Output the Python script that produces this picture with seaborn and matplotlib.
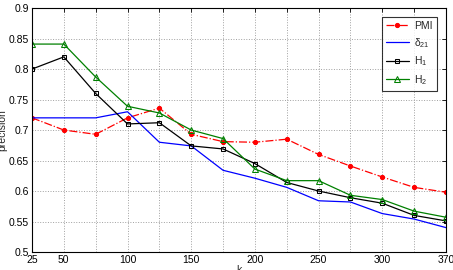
import numpy as np
import pandas as pd
import seaborn as sns
import matplotlib.pyplot as plt

# datos
k = [25, 50, 75, 100, 125, 150, 175, 200, 225, 250, 275, 300, 325, 350]
pmi = [0.720, 0.700, 0.693, 0.720, 0.736, 0.693, 0.681, 0.680, 0.685, 0.660, 0.641, 0.623, 0.606, 0.598]
delta21 = [0.720, 0.720, 0.720, 0.730, 0.680, 0.674, 0.634, 0.621, 0.606, 0.584, 0.582, 0.563, 0.554, 0.540]
h1 = [0.800, 0.820, 0.760, 0.710, 0.712, 0.674, 0.669, 0.645, 0.614, 0.600, 0.589, 0.580, 0.560, 0.551]
h2 = [0.841, 0.841, 0.787, 0.739, 0.728, 0.700, 0.686, 0.636, 0.617, 0.617, 0.593, 0.586, 0.567, 0.557]

xtick_vals = [25, 50, 75, 100, 125, 150, 175, 200, 225, 250, 275, 300, 325, 350]
xtick_labels = ['25', '50', '', '100', '', '150', '', '200', '', '250', '', '300', '', '370']
ytick_vals = [0.5, 0.55, 0.6, 0.65, 0.7, 0.75, 0.8, 0.85, 0.9]
ytick_labels = ['0.5', '0.55', '0.6', '0.65', '0.7', '0.75', '0.8', '0.85', '0.9']

sns.set_style('white')
plt.rcParams['font.family'] = ['Liberation Sans', 'DejaVu Sans']
plt.rcParams['mathtext.fontset'] = 'custom'
plt.rcParams['mathtext.rm'] = 'Liberation Sans'
plt.rcParams['mathtext.it'] = 'Liberation Sans'

fig = plt.figure(figsize=(4.53, 2.70), dpi=100)
ax = fig.add_axes([0.0706, 0.0667, 0.9139, 0.9033])

sns.lineplot(x=k, y=pmi, ax=ax, color='red', linestyle='-.', marker='o', markersize=3,
             markeredgecolor='red', linewidth=0.9, label='PMI')
sns.lineplot(x=k, y=delta21, ax=ax, color='blue', linestyle='-', linewidth=0.9,
             label=r'$\delta_{21}$')
sns.lineplot(x=k, y=h1, ax=ax, color='black', linestyle='-', marker='s', markersize=3.5,
             markerfacecolor='none', markeredgecolor='black', linewidth=0.9, label=r'H$_1$')
sns.lineplot(x=k, y=h2, ax=ax, color='green', linestyle='-', marker='^', markersize=4,
             markerfacecolor='none', markeredgecolor='green', linewidth=0.9, label=r'H$_2$')

ax.set_xlim(25, 350)
ax.set_ylim(0.5, 0.9)
ax.set_xticks(xtick_vals)
ax.set_xticklabels(xtick_labels)
ax.set_yticks(ytick_vals)
ax.set_yticklabels(ytick_labels)
ax.tick_params(direction='in', length=3, width=0.6, labelsize=7.5, top=True, right=True, pad=2,
               colors='black')
ax.grid(True, linestyle=':', color='#a0a0a0', linewidth=0.7)
for s in ax.spines.values():
    s.set_color('black')
    s.set_linewidth(0.8)

ax.set_xlabel('k', fontsize=7.5, labelpad=0)
ax.set_ylabel('precision', fontsize=7.5, labelpad=1)

leg = ax.legend(loc='upper right', fontsize=7.5, frameon=True, fancybox=False,
                handlelength=2.2, handletextpad=0.5, borderpad=0.4, labelspacing=0.45,
                bbox_to_anchor=(0.99, 0.985))
leg.get_frame().set_edgecolor('black')
leg.get_frame().set_linewidth(0.8)

fig.savefig('out.png', dpi=100)
plt.close(fig)
